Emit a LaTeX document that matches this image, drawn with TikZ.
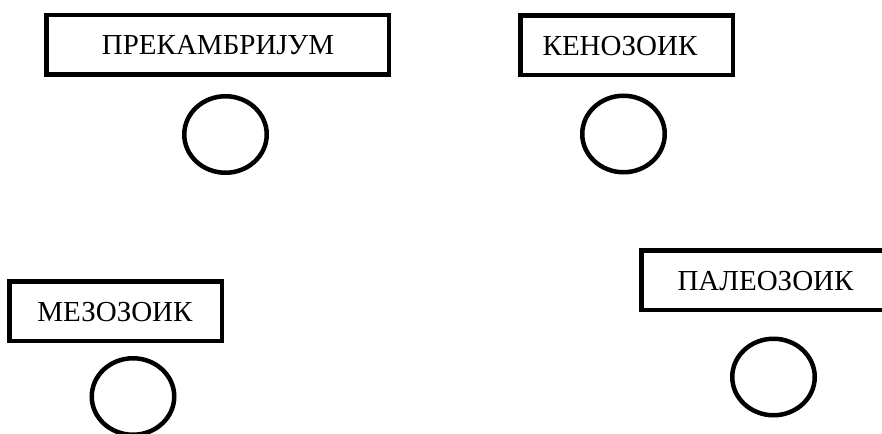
\documentclass[tikz,border=0pt]{standalone}
\usepackage{fontspec}
\setmainfont{Liberation Serif}
\usetikzlibrary{shapes.geometric}
\tikzset{
  erabox/.style={draw=black, line width=4.5pt, rectangle, inner sep=0pt,
    minimum height=59.5pt},
  eratext/.style={anchor=base, inner sep=0pt, text=black,
    font=\fontsize{29}{35}\selectfont},
  eramark/.style={draw=black, line width=4.5pt, ellipse, inner sep=0pt,
    minimum width=82.5pt, minimum height=76.5pt}
}
\begin{document}
\begin{tikzpicture}[x=1pt, y=-1pt]
  \useasboundingbox[fill=white] (0,0) rectangle (882,433);
  % era name boxes
  \node[erabox, minimum width=342.5pt] (prekambrij) at (217.5,45) {};
  \node[erabox, minimum width=212.5pt] (kenozoik) at (626.5,45.5) {};
  \node[erabox, minimum width=212.5pt] (mezozoik) at (115.5,311) {};
  \node[erabox, minimum width=248.5pt] (paleozoik) at (765.5,280) {};
  % era names
  \node[eratext] (prekambrij-t) at (218,55) {ПРЕКАМБРИЈУМ};
  \node[eratext] (kenozoik-t) at (620,56) {КЕНОЗОИК};
  \node[eratext] (mezozoik-t) at (115,321.5) {МЕЗОЗОИК};
  \node[eratext] (paleozoik-t) at (765.5,290) {ПАЛЕОЗОИК};
  % empty circles beneath each box
  \node[eramark] (c1) at (225.5,134.5) {};
  \node[eramark] (c2) at (623.5,134) {};
  \node[eramark] (c3) at (133,396.5) {};
  \node[eramark] (c4) at (773.5,377) {};
\end{tikzpicture}
\end{document}
